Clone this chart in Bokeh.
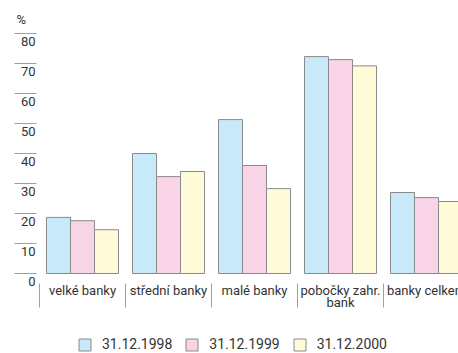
from bokeh.plotting import figure
from bokeh.models import Range1d, ColumnDataSource, Legend
from bokeh.core.properties import value
from bokeh.embed import file_html
from bokeh.resources import INLINE

categories = ["velké banky", "střední banky", "malé banky", "pobočky zahr.\nbank", "banky celkem"]
series_names = ["31.12.1998", "31.12.1999", "31.12.2000"]
v1998 = [18.7, 40.0, 51.3, 72.3, 27.0]
v1999 = [17.6, 32.3, 36.0, 71.3, 25.3]
v2000 = [14.6, 34.0, 28.3, 69.2, 24.0]
y_ticks = [0, 10, 20, 30, 40, 50, 60, 70, 80]
unit_label = "%"

colors = ["#c8e9f9", "#f9d3e6", "#fffad7"]
FONT = "Roboto"
TXT = "#333333"
CAT = 86.0          # px per category
X0 = 39.0           # screen x of first category start
W, H = 458, 353
Y0 = 273.0          # screen y of value 0
PPU = 3.0           # px per unit

p = figure(width=W, height=H, output_backend="svg", toolbar_location=None,
           x_range=Range1d(-X0 / CAT, (W - X0) / CAT),
           y_range=Range1d(-(H - Y0) / PPU, Y0 / PPU),
           min_border_left=0, min_border_right=0, min_border_top=0, min_border_bottom=0)
p.outline_line_color = None
p.grid.visible = False
p.axis.visible = False
p.background_fill_color = "white"
p.border_fill_color = "white"

bw = 24 / CAT
renderers = []
for k, (vals, name) in enumerate(zip([v1998, v1999, v2000], series_names)):
    xs = [i + 0.5 + (k - 1) * bw for i in range(len(categories))]
    src = ColumnDataSource(dict(x=xs, top=vals))
    r = p.vbar(x="x", top="top", bottom=0, width=bw, source=src,
               fill_color=colors[k], line_color="#8a8a8a", line_width=1)
    renderers.append((name, [r]))

# y scale: short horizontal rules with labels beneath them
tx0 = (14 - X0) / CAT
tx1 = (36 - X0) / CAT
ysrc = ColumnDataSource(dict(y=y_ticks, t=[str(v) for v in y_ticks],
                             x0=[tx0] * len(y_ticks), x1=[tx1] * len(y_ticks)))
p.segment(x0="x0", x1="x1", y0="y", y1="y", source=ysrc, line_color="#a0a0a0", line_width=1)
p.text(x="x1", y="y", text="t", source=ysrc, x_offset=-1, y_offset=3,
       text_align="right", text_baseline="top", text_font=value(FONT),
       text_font_size="13px", text_color=TXT)
p.text(x=[(16 - X0) / CAT], y=[y_ticks[-1]], text=[unit_label], y_offset=-7,
       text_align="left", text_baseline="bottom", text_font=value(FONT),
       text_font_size="13px", text_color=TXT)

# category axis: separators between groups and centred labels
n = len(categories)
sep_x = list(range(n + 1))
ssrc = ColumnDataSource(dict(x=sep_x, y0=[-10 / PPU] * (n + 1), y1=[-34 / PPU] * (n + 1)))
p.segment(x0="x", x1="x", y0="y0", y1="y1", source=ssrc, line_color="#a0a0a0", line_width=1)
csrc = ColumnDataSource(dict(x=[i + 0.5 for i in range(n)], y=[0] * n, t=categories))
p.text(x="x", y="y", text="t", source=csrc, y_offset=9,
       text_align="center", text_baseline="top", text_font=value(FONT),
       text_font_size="13px", text_color=TXT, text_line_height=0.85)

legend = Legend(items=renderers, orientation="horizontal", location=(77, 1),
                glyph_width=15, glyph_height=15, label_standoff=10, spacing=12,
                label_text_font=FONT, label_text_font_size="14px", label_text_color=TXT,
                border_line_color=None, background_fill_alpha=0, margin=0, padding=0)
p.add_layout(legend, "center")

open("out.html", "w").write(file_html(p, INLINE))
